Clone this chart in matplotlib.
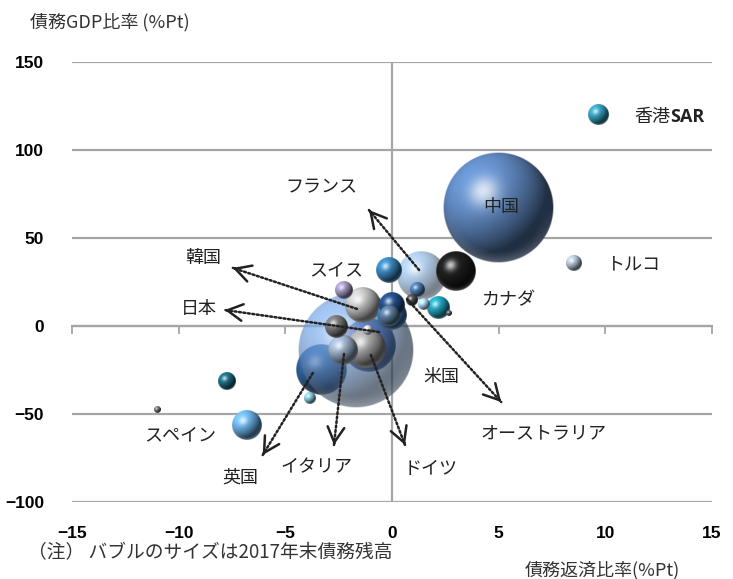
import numpy as np
import matplotlib.pyplot as plt
from matplotlib.colors import to_rgb

plt.rcParams['font.family'] = ['Noto Sans CJK JP', 'DejaVu Sans']

# --- bubble data: debt service ratio change (x), debt/GDP change (y), 2017 debt (size) ---
names = ['米国', '中国', '日本', 'フランス', '英国', 'ドイツ', 'カナダ', 'イタリア', '韓国',
         'オーストラリア', 'スペイン', 'スイス', '香港SAR', 'トルコ', 'b15', 'b16', 'b17',
         'b18', 'b19', 'b20', 'b21', 'b22', 'b23', 'b24', 'b25', 'b26', 'b27']
dsr_chg = [-1.69, 4.98, -1.08, 1.36, -3.33, -1.22, 3.00, -2.30, -1.36,
           0.00, -6.81, -0.14, 9.67, 8.54, -2.25, -2.63, 2.16,
           -7.75, -3.85, -10.99, 1.17, 0.94, 1.50, 2.68, -1.13, -0.14, 0.00]
gdp_chg = [-13.6, 67.0, -10.8, 28.4, -25.0, -12.5, 31.3, -13.6, 11.9,
           11.9, -56.3, 31.8, 119.9, 35.8, 20.5, -0.6, 10.2,
           -31.3, -40.9, -47.2, 20.5, 14.8, 12.5, 7.4, -2.3, 5.7, 6.3]
debt = [50.0, 45.0, 10.8, 8.6, 9.3, 5.9, 5.9, 3.3, 4.8,
        2.5, 3.3, 2.5, 1.5, 0.95, 1.2, 1.8, 1.8,
        1.2, 0.53, 0.18, 0.73, 0.53, 0.53, 0.13, 0.37, 1.5, 3.3]
colors = ['#6b98d4', '#6088c0', '#3a4c9c', '#86b2e0', '#2f63a0', '#a9a9a9', '#1e1e1e',
          '#9db2cc', '#c4c4c4', '#24508a', '#6cb4ea', '#3a88c0', '#36a2c2', '#b8c6da',
          '#a79bc6', '#7a7a7a', '#22a8c2', '#1c6f86', '#8ccde2', '#7a7a7a', '#4a80b6',
          '#505050', '#aee0f6', '#666666', '#dddddd', '#5f7fa2', '#3f84c4']
alphas = {'米国': 0.68, 'フランス': 0.65}

# label text and where it sits
label_txt = ['中国', 'トルコ', 'カナダ', 'フランス', '韓国', '日本', 'スイス', '米国',
             'オーストラリア', 'スペイン', '英国', 'イタリア', 'ドイツ']
label_x = [5.12, 11.31, 5.45, -3.33, -8.83, -9.06, -2.63, 2.30, 7.09, -9.95, -7.09, -3.52, 1.83]
label_y = [67.6, 34.7, 14.8, 79.0, 38.6, 9.7, 31.8, -29.0, -60.8, -61.9, -86.4, -80.1, -81.3]

# dotted pointer arrows: (tail x, tail y, head x, head y)
arrows = [(1.27, 31.8, -1.08, 65.9),
          (-1.64, 9.7, -7.46, 33.0),
          (-0.61, -3.4, -7.84, 9.1),
          (0.70, 15.3, 5.12, -43.2),
          (-3.71, -26.7, -6.06, -73.3),
          (-2.25, -15.9, -2.72, -67.6),
          (-0.99, -16.5, 0.61, -67.6)]

xticks = [-15, -10, -5, 0, 5, 10, 15]
yticks = [-100, -50, 0, 50, 100, 150]


def sphere(color, n=160):
    """RGBA image of a shaded sphere lit from the upper left."""
    u = np.linspace(-1, 1, n)
    U, V = np.meshgrid(u, -u)
    r2 = U**2 + V**2
    Z = np.sqrt(np.clip(1 - r2, 0, 1))
    L = np.array([-0.5, 0.55, 0.67])
    L = L / np.linalg.norm(L)
    diff = np.clip(U * L[0] + V * L[1] + Z * L[2], 0, 1)
    H = L + np.array([0, 0, 1.0])
    H = H / np.linalg.norm(H)
    spec = np.clip(U * H[0] + V * H[1] + Z * H[2], 0, 1) ** 25
    base = np.array(to_rgb(color))
    rgb = base[None, None, :] * (0.35 + 0.8 * diff[..., None])
    # soft glow on the lower rim
    rim = np.clip((np.sqrt(r2) - 0.8) / 0.2, 0, 1) * np.clip(-V, 0, 1) * 0.25
    rgb = rgb + rim[..., None] * (1 - rgb)
    rgb = rgb + 0.75 * spec[..., None] * (1 - rgb)
    rgb = np.clip(rgb, 0, 1)
    a = np.clip((1 - np.sqrt(r2)) * n / 2, 0, 1)
    return np.dstack([rgb, a])


fig = plt.figure(figsize=(7.33, 5.79), dpi=100)
ax = fig.add_axes([72 / 733, 77 / 579, 640 / 733, 440 / 579])
ax.set_xlim(-15, 15)
ax.set_ylim(-100, 150)

bb = ax.get_window_extent()
px_x = bb.width / 30
px_y = bb.height / 250
k = 58 / np.sqrt(max(debt))

# largest first; the translucent US bubble sits over Japan and the UK
order = list(np.argsort(debt)[::-1])
us = names.index('米国')
order.remove(us)
order.insert(order.index(names.index('英国')) + 1, us)

for z, i in enumerate(order):
    r = k * np.sqrt(debt[i])
    rx, ry = r / px_x, r / px_y
    img = sphere(colors[i])
    img[..., 3] *= alphas.get(names[i], 1.0)
    ax.imshow(img, extent=[dsr_chg[i] - rx, dsr_chg[i] + rx, gdp_chg[i] - ry, gdp_chg[i] + ry],
              aspect='auto', interpolation='bilinear', zorder=3 + z * 0.01)

ax.set_xlim(-15, 15)
ax.set_ylim(-100, 150)

# axes, grid and zero lines
for s in ax.spines.values():
    s.set_visible(False)
ax.set_yticks(yticks)
ax.set_xticks(xticks)
ax.yaxis.grid(True, color='#a6a6a6', lw=1.6)
ax.set_axisbelow(True)
ax.axvline(0, color='#a6a6a6', lw=1.6, zorder=1)
ax.tick_params(length=0, labelsize=12.5, colors='black')
ax.tick_params(axis='y', pad=20)
ax.tick_params(axis='x', pad=17)
for t in ax.get_xticklabels() + ax.get_yticklabels():
    t.set_fontweight('bold')
    t.set_family(['Liberation Sans'])

sec = ax.secondary_xaxis(0.4)
sec.set_xticks(xticks)
sec.tick_params(length=6, width=1.3, direction='out', color='#a6a6a6', labelbottom=False)
sec.spines['bottom'].set_color('#a6a6a6')
sec.spines['bottom'].set_linewidth(1.6)

# pointer arrows
for tx, ty, hx, hy in arrows:
    ax.annotate('', xy=(hx, hy), xytext=(tx, ty),
                arrowprops=dict(arrowstyle='-', lw=1.8, linestyle=(0, (0.8, 1.0)),
                                color='#222222', shrinkA=0, shrinkB=0), zorder=10)
    ax.annotate('', xy=(hx, hy), xytext=(hx + (tx - hx) * 0.02, hy + (ty - hy) * 0.02),
                arrowprops=dict(arrowstyle='->, head_length=1.1, head_width=0.6', lw=1.8,
                                color='#222222', shrinkA=0, shrinkB=0), zorder=10)

for t, x, y in zip(label_txt, label_x, label_y):
    ax.text(x, y, t, fontsize=13, ha='center', va='center', color='#222222', zorder=11)

ax.text(11.36, 118.8, '香港', fontsize=13, ha='left', va='center', color='#222222', zorder=11)
ax.text(13.05, 118.8, 'SAR', fontsize=13, ha='left', va='center', color='#222222',
        fontweight='bold', family=['Open Sans'], zorder=11)

fig.text(30 / 733, 1 - 22 / 579, '債務GDP比率 (%Pt)', fontsize=13, color='#333333', va='center')
fig.text(525 / 733, 1 - 570 / 579, '債務返済比率(%Pt)', fontsize=13, color='#333333', va='center')
fig.text(28 / 733, 1 - 553 / 579, '（注） バブルのサイズは2017年末債務残高', fontsize=13.5,
         color='#333333', va='center')

fig.savefig('out.png', dpi=100)
